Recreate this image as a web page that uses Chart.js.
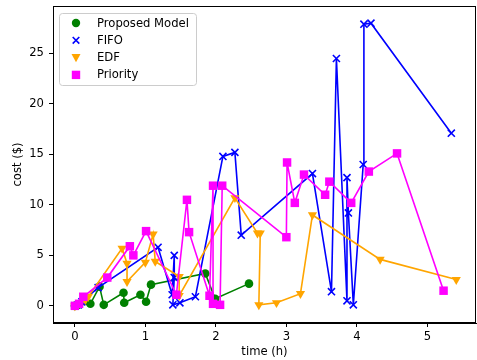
<!DOCTYPE html>
<html>
<head>
<meta charset="utf-8">
<script src="https://cdn.jsdelivr.net/npm/chart.js@4/dist/chart.umd.min.js"></script>
<style>
html, body { margin: 0; padding: 0; background: #fff; }
</style>
</head>
<body>
<canvas id="costChart" width="477" height="360"></canvas>
<script>
// series data
const seriesNames = ['Proposed Model', 'FIFO', 'EDF', 'Priority'];

const proposedTime = [0, 0.05, 0.22, 0.35, 0.41, 0.69, 0.70, 0.93, 1.01, 1.08, 1.85, 1.99, 2.47];
const proposedCost = [0, 0.1, 0.2, 1.9, 0.1, 1.3, 0.3, 1.1, 0.4, 2.1, 3.2, 0.7, 2.2];

const fifoTime = [0, 0.05, 0.1, 0.33, 1.18, 1.38, 1.41, 1.41, 1.39, 1.49, 1.71, 2.10, 2.27, 2.36, 3.37, 3.64, 3.71, 3.86, 3.86, 3.88, 3.95, 4.09, 4.10, 4.20, 5.34];
const fifoCost = [0, 0.1, 0.4, 1.8, 5.8, 1.1, 5.0, 2.8, 0.1, 0.3, 0.9, 14.8, 15.2, 7.0, 13.1, 1.4, 24.5, 0.5, 12.7, 9.2, 0.1, 14.0, 27.9, 28.0, 17.1];

const edfTime = [0, 0.08, 0.15, 0.19, 0.67, 0.74, 0.74, 1.0, 1.11, 1.14, 1.48, 1.48, 2.27, 2.59, 2.63, 2.61, 2.86, 3.20, 3.37, 4.33, 5.41];
const edfCost = [0, 0.3, 0.6, 0.9, 5.7, 4.2, 2.4, 4.3, 7.1, 4.4, 2.9, 1.0, 10.7, 7.2, 7.2, 0.1, 0.3, 1.2, 9.0, 4.6, 2.6];

const priorityTime = [0, 0.06, 0.12, 0.46, 0.78, 0.83, 1.01, 1.44, 1.59, 1.62, 1.91, 1.96, 1.96, 2.06, 2.09, 3.0, 3.01, 3.12, 3.25, 3.55, 3.61, 3.92, 4.17, 4.57, 5.23];
const priorityCost = [0, 0.2, 0.9, 2.8, 5.9, 5.0, 7.4, 1.1, 10.5, 7.3, 1.0, 11.9, 0.2, 0.1, 11.9, 6.8, 14.2, 10.2, 13.0, 11.0, 12.3, 10.2, 13.3, 15.1, 1.5];

const xTicks = [0, 1, 2, 3, 4, 5];
const yTicks = [0, 5, 10, 15, 20, 25];

const FONT = 'DejaVu Sans';
const FS = 11.6;

function pts(xs, ys) {
    return xs.map((x, i) => ({ x: x, y: ys[i] }));
}

// legend drawn inside the plot, matplotlib style
const legendInside = {
    id: 'legendInside',
    afterDatasetsDraw(chart) {
        const ctx = chart.ctx;
        const x0 = 59.5, y0 = 13.5, w = 137, h = 72, r = 3;
        ctx.save();
        ctx.beginPath();
        ctx.moveTo(x0 + r, y0);
        ctx.arcTo(x0 + w, y0, x0 + w, y0 + h, r);
        ctx.arcTo(x0 + w, y0 + h, x0, y0 + h, r);
        ctx.arcTo(x0, y0 + h, x0, y0, r);
        ctx.arcTo(x0, y0, x0 + w, y0, r);
        ctx.closePath();
        ctx.fillStyle = 'rgba(255,255,255,0.8)';
        ctx.fill();
        ctx.strokeStyle = '#cccccc';
        ctx.lineWidth = 1;
        ctx.stroke();

        ctx.font = FS + 'px "' + FONT + '"';
        ctx.textBaseline = 'middle';
        ctx.textAlign = 'left';
        chart.data.datasets.forEach((ds, i) => {
            const mx = 76, my = 23 + i * 17.3;
            const c = ds.borderColor;
            ctx.fillStyle = c;
            ctx.strokeStyle = c;
            ctx.beginPath();
            if (ds.pointStyle === 'circle') {
                ctx.arc(mx, my, 4.2, 0, Math.PI * 2);
                ctx.fill();
            } else if (ds.pointStyle === 'crossRot') {
                ctx.lineWidth = 1.6;
                ctx.moveTo(mx - 3.3, my - 3.3); ctx.lineTo(mx + 3.3, my + 3.3);
                ctx.moveTo(mx + 3.3, my - 3.3); ctx.lineTo(mx - 3.3, my + 3.3);
                ctx.stroke();
            } else if (ds.pointStyle === 'triangle') {
                ctx.moveTo(mx - 4.5, my - 3.5);
                ctx.lineTo(mx + 4.5, my - 3.5);
                ctx.lineTo(mx, my + 4.7);
                ctx.closePath();
                ctx.fill();
            } else {
                ctx.rect(mx - 4.2, my - 4.2, 8.4, 8.4);
                ctx.fill();
            }
            ctx.fillStyle = '#000';
            ctx.fillText(ds.label, 97, my + 0.5);
        });
        ctx.restore();
    }
};

// top and right spines
const frame = {
    id: 'frame',
    afterDraw(chart) {
        const a = chart.chartArea;
        const ctx = chart.ctx;
        ctx.save();
        ctx.strokeStyle = '#000';
        ctx.lineWidth = 1;
        ctx.strokeRect(a.left + 0.5, a.top + 0.5, a.right - a.left - 1, a.bottom - a.top - 1);
        ctx.restore();
    }
};

Chart.defaults.color = '#000';
Chart.defaults.font.family = FONT;
Chart.defaults.font.size = FS;

new Chart(document.getElementById('costChart'), {
    type: 'line',
    data: {
        datasets: [
            {
                label: seriesNames[0],
                data: pts(proposedTime, proposedCost),
                borderColor: '#008000', backgroundColor: '#008000',
                pointStyle: 'circle', pointRadius: 4.3, pointBorderWidth: 0,
                borderWidth: 1.6, order: 4
            },
            {
                label: seriesNames[1],
                data: pts(fifoTime, fifoCost),
                borderColor: '#0000ff', backgroundColor: '#0000ff',
                pointStyle: 'crossRot', pointRadius: 5, pointBorderWidth: 1.6,
                borderWidth: 1.6, order: 3
            },
            {
                label: seriesNames[2],
                data: pts(edfTime, edfCost),
                borderColor: '#ffa500', backgroundColor: '#ffa500',
                pointStyle: 'triangle', pointRotation: 180, pointRadius: 5.3, pointBorderWidth: 0,
                borderWidth: 1.6, order: 2
            },
            {
                label: seriesNames[3],
                data: pts(priorityTime, priorityCost),
                borderColor: '#ff00ff', backgroundColor: '#ff00ff',
                pointStyle: 'rect', pointRadius: 6, pointBorderWidth: 0,
                borderWidth: 1.6, order: 1
            }
        ]
    },
    options: {
        responsive: false,
        animation: false,
        layout: { autoPadding: false, padding: { left: 0, top: 6, right: 1, bottom: 0 } },
        plugins: {
            legend: { display: false },
            tooltip: { enabled: false }
        },
        elements: { line: { tension: 0 } },
        scales: {
            x: {
                type: 'linear',
                min: -0.31,
                max: 5.69,
                afterBuildTicks: (s) => { s.ticks = xTicks.map(v => ({ value: v })); },
                afterFit: (s) => { s.height = 37; s.paddingLeft = 0; s.paddingRight = 0; },
                grid: { drawOnChartArea: false, drawTicks: true, tickLength: 4, tickColor: '#000' },
                border: { display: true, color: '#000', width: 1 },
                ticks: { padding: 3, font: { size: FS } },
                title: { display: true, text: 'time (h)', padding: { top: 0, bottom: 1 }, font: { size: FS } }
            },
            y: {
                type: 'linear',
                min: -1.7,
                max: 29.7,
                afterBuildTicks: (s) => { s.ticks = yTicks.map(v => ({ value: v })); },
                afterFit: (s) => { s.width = 53; s.paddingTop = 0; s.paddingBottom = 0; },
                grid: { drawOnChartArea: false, drawTicks: true, tickLength: 4, tickColor: '#000' },
                border: { display: true, color: '#000', width: 1 },
                ticks: { padding: 5, font: { size: FS } },
                title: { display: true, text: 'cost ($)', padding: { top: 11, bottom: 0 }, font: { size: FS } }
            }
        }
    },
    plugins: [legendInside, frame]
});
</script>
</body>
</html>
